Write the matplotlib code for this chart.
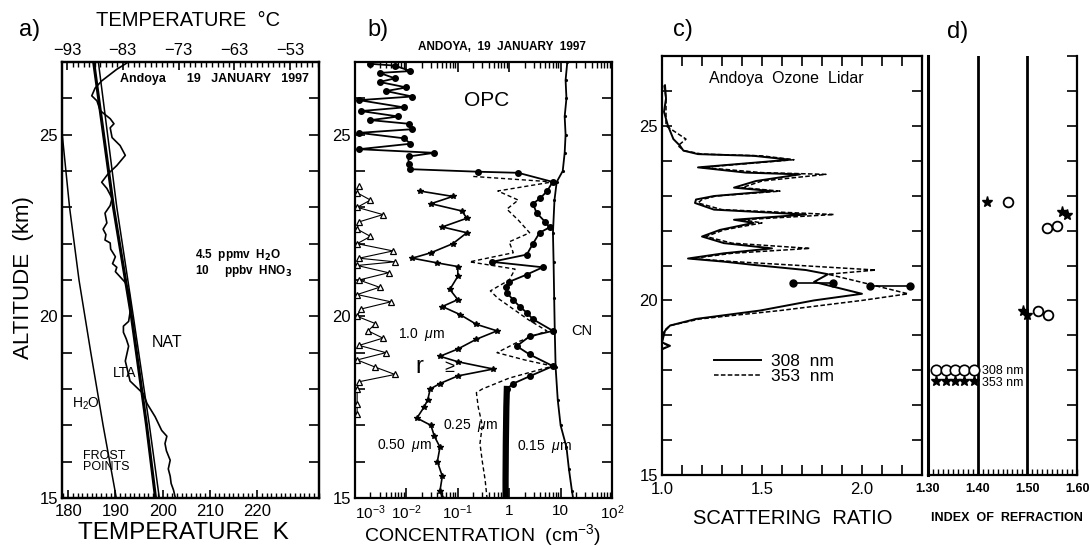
import matplotlib
matplotlib.use("Agg")
import matplotlib.pyplot as plt
from matplotlib.ticker import MultipleLocator, FuncFormatter, LogLocator, NullFormatter
from matplotlib.lines import Line2D

plt.rcParams['font.family'] = ['Liberation Sans', 'DejaVu Sans']
plt.rcParams['mathtext.fontset'] = 'custom'
plt.rcParams['mathtext.rm'] = 'Liberation Sans'
plt.rcParams['mathtext.it'] = 'Liberation Sans:italic'

# ---- panel a: temperature (K) vs altitude (km)
temp_alt = [26.97, 26.80, 26.48, 26.28, 26.07, 25.93, 25.66, 25.44, 25.30, 25.19, 24.92, 24.70,
            24.43, 24.15, 23.93, 23.69, 23.52, 23.25, 23.05, 22.84, 22.57, 22.40, 22.25, 22.10,
            22.02, 21.85, 21.64, 21.45, 21.35, 21.23, 20.93, 20.66, 20.27, 19.86, 19.73, 19.56,
            19.38, 19.18, 18.77, 18.50, 18.22, 17.87, 17.60, 17.24, 16.86, 16.70, 16.50, 16.30,
            16.04, 15.80, 15.60, 15.40, 15.22, 15.00]
temp_k = [192.4, 190.3, 187.1, 185.7, 185.0, 186.1, 186.8, 188.9, 189.7, 188.9, 189.3, 191.0,
          192.1, 190.3, 188.5, 187.1, 188.2, 189.3, 188.9, 187.8, 188.2, 187.4, 188.0, 187.8,
          188.9, 189.0, 190.0, 189.4, 190.3, 190.0, 192.1, 192.9, 193.3, 192.8, 191.7, 191.7,
          192.3, 192.8, 192.1, 192.6, 193.1, 195.9, 196.7, 198.4, 199.8, 200.9, 200.5, 200.8,
          201.6, 201.2, 201.6, 201.8, 202.3, 202.7]
nat_alt = [27, 23, 20, 17, 15]
nat_k = [185.4, 189.6, 193.4, 196.6, 198.5]
lta_alt = [27, 23, 20, 17, 15]
lta_k = [186.4, 190.3, 193.8, 197.2, 199.3]
frost_alt = [27.0, 25.2, 23.0, 21.0, 19.0, 17.0, 15.0]
frost_k = [176.5, 178.6, 180.3, 182.3, 184.8, 187.4, 190.2]
k_ticks = [180, 190, 200, 210, 220]
c_ticks = [-93, -83, -73, -63, -53]

# ---- panel b: OPC concentrations (cm^-3)
cn_alt = [27.0, 26.5, 26.0, 25.5, 25.0, 24.5, 24.0, 23.7, 23.2, 22.3, 21.5, 20.5, 19.6, 18.6,
          17.7, 17.0, 16.4, 15.8, 15.2, 15.0]
cn_conc = [13.5, 12.5, 13.0, 12.0, 12.5, 12.0, 11.0, 8.4, 7.6, 7.1, 7.3, 7.5, 7.7, 8.0,
           8.8, 10.0, 13.0, 14.5, 16.6, 17.5]
r015_alt = [26.95, 26.9, 26.75, 26.7, 26.55, 26.45, 26.3, 26.2, 26.05, 25.95, 25.75, 25.65,
            25.5, 25.4, 25.3, 25.15, 25.05, 24.9, 24.75, 24.6, 24.5, 24.4, 24.2, 24.05, 23.98,
            23.95, 23.7, 23.45, 23.25, 23.1, 22.85, 22.6, 22.45, 22.3, 22.0, 21.7, 21.5, 21.35,
            21.15, 20.95, 20.8, 20.65, 20.45, 20.27, 20.1, 19.92, 19.6, 19.45, 19.18, 18.95,
            18.63, 18.35, 18.15, 18.0]
r015_conc = [0.002, 0.006, 0.012, 0.003, 0.006, 0.003, 0.010, 0.004, 0.013, 0.0012, 0.009,
             0.0013, 0.007, 0.002, 0.011, 0.013, 0.0012, 0.009, 0.012, 0.0012, 0.035, 0.011,
             0.011, 0.012, 0.25, 1.5, 7.0, 5.5, 4.0, 2.9, 3.4, 5.0, 6.1, 3.9, 2.9, 2.2, 0.46, 4.5,
             2.2, 1.0, 0.85, 0.9, 1.2, 1.6, 2.2, 2.9, 7.1, 2.5, 1.4, 2.5, 7.1, 2.5, 1.2, 0.9]
r015_low_alt = [18.0, 17.5, 16.5, 15.5, 15.0]
r015_low_conc = [0.9, 0.88, 0.86, 0.85, 0.85]
r025_alt = [23.85, 23.7, 23.45, 23.2, 22.95, 22.65, 22.3, 22.05, 21.75, 21.5, 21.3, 21.0, 20.7,
            20.5, 20.2, 19.9, 19.6, 19.3, 19.0, 18.8, 18.63, 18.3, 18.0, 17.9, 17.5, 17.0, 16.5,
            16.0, 15.5, 15.0]
r025_conc = [0.2, 7.0, 0.6, 1.5, 0.9, 1.5, 2.5, 1.0, 1.2, 0.17, 1.3, 1.0, 0.43, 0.6, 1.2, 2.4,
             5.4, 1.5, 0.58, 2.0, 7.0, 1.0, 0.3, 0.23, 0.25, 0.3, 0.27, 0.3, 0.34, 0.37]
r050_alt = [23.45, 23.3, 23.1, 22.9, 22.7, 22.46, 22.3, 22.0, 21.75, 21.6, 21.47, 21.37, 21.1,
            20.74, 20.46, 20.27, 20.05, 19.78, 19.6, 19.37, 19.1, 18.9, 18.75, 18.55, 18.36,
            18.15, 18.0, 17.7, 17.5, 17.2, 17.0, 16.7, 16.4, 16.0, 15.6, 15.2, 15.0]
r050_conc = [0.018, 0.08, 0.03, 0.12, 0.15, 0.05, 0.15, 0.08, 0.03, 0.013, 0.04, 0.1, 0.1,
             0.07, 0.1, 0.05, 0.11, 0.23, 0.58, 0.23, 0.1, 0.045, 0.1, 0.49, 0.1, 0.045, 0.029,
             0.026, 0.022, 0.016, 0.03, 0.035, 0.045, 0.04, 0.05, 0.045, 0.05]
r100_alt = [23.6, 23.4, 23.2, 23.0, 22.8, 22.6, 22.4, 22.2, 22.0, 21.8, 21.6, 21.5, 21.4, 21.2,
            21.0, 20.8, 20.6, 20.4, 20.2, 20.0, 19.8, 19.6, 19.4, 19.2, 19.0, 18.8, 18.6, 18.4,
            18.2, 18.0, 17.6, 17.3]
r100_conc = [0.0012, 0.0011, 0.002, 0.0011, 0.0035, 0.0012, 0.0011, 0.002, 0.0011, 0.0055,
             0.0012, 0.006, 0.0011, 0.0045, 0.0012, 0.003, 0.0011, 0.005, 0.0013, 0.0011,
             0.0025, 0.0018, 0.0035, 0.0012, 0.004, 0.0011, 0.0025, 0.006, 0.0012, 0.0011,
             0.0011, 0.0011]
conc_ticks = [1e-3, 1e-2, 1e-1, 1, 10, 100]
conc_labels = [r'$10^{-3}$', r'$10^{-2}$', r'$10^{-1}$', '1', '10', r'$10^{2}$']

# ---- panel c: lidar scattering ratio
sr_alt = [26.16, 25.78, 25.4, 25.0, 24.62, 24.43, 24.29, 24.19, 24.14, 24.03, 23.81, 23.66,
          23.61, 23.42, 23.23, 23.13, 22.99, 22.89, 22.79, 22.6, 22.46, 22.31, 22.22, 22.02,
          21.83, 21.64, 21.49, 21.35, 21.2, 21.11, 21.01, 20.87, 20.75, 20.53, 20.19, 20.0,
          19.71, 19.47, 19.28, 19.13, 18.8, 18.7, 18.6, 18.4, 15.0]
sr_308 = [1.015, 1.02, 1.01, 1.03, 1.057, 1.09, 1.107, 1.18, 1.46, 1.64, 1.18, 1.42,
          1.69, 1.47, 1.36, 1.55, 1.26, 1.17, 1.165, 1.26, 1.72, 1.36, 1.457, 1.29,
          1.20, 1.31, 1.55, 1.31, 1.13, 1.31, 1.47, 1.72, 1.83, 1.76, 2.0, 1.76,
          1.49, 1.17, 1.04, 1.015, 1.0, 1.04, 1.0, 1.0, 1.0]
sr_353 = [1.01, 1.02, 1.02, 1.02, 1.12, 1.08, 1.11, 1.2, 1.5, 1.66, 1.2, 1.5,
          1.82, 1.5, 1.40, 1.59, 1.27, 1.2, 1.18, 1.30, 1.86, 1.40, 1.50, 1.31,
          1.22, 1.35, 1.74, 1.35, 1.15, 1.36, 1.66, 2.07, 1.83, 1.99, 2.23, 2.0,
          1.59, 1.19, 1.04, 1.01, 1.0, 1.03, 1.0, 1.0, 1.0]
fit308_sr = [1.657, 1.857]
fit308_alt = [20.51, 20.51]
fit353_sr = [2.04, 2.24]
fit353_alt = [20.42, 20.42]
sr_ticks = [1.0, 1.5, 2.0]

# ---- panel d: index of refraction
n308 = [1.461, 1.54, 1.56, 1.521, 1.541]
n308_alt = [22.82, 22.06, 22.13, 19.71, 19.57]
n353 = [1.419, 1.570, 1.58, 1.491, 1.50]
n353_alt = [22.82, 22.54, 22.44, 19.71, 19.57]
n_lines = [1.40, 1.50]
n_ticks = [1.30, 1.40, 1.50, 1.60]

W, H = 1090, 546
fig = plt.figure(figsize=(W / 100, H / 100), dpi=100)


def box(l, r, t, b):
    return [l / W, 1 - b / H, (r - l) / W, (b - t) / H]


def alt_axis(ax, labels=True):
    ax.set_ylim(15, 27)
    ax.yaxis.set_major_locator(MultipleLocator(1))
    if labels:
        ax.yaxis.set_major_formatter(FuncFormatter(lambda v, p: f"{v:.0f}" if v % 5 == 0 else ""))
    else:
        ax.yaxis.set_major_formatter(NullFormatter())
    ax.tick_params(axis='y', which='major', direction='in', length=7, width=1.2,
                   left=True, right=True, labelsize=12, pad=3)
    for s in ax.spines.values():
        s.set_linewidth(1.6)


# ---------------- a
ax_a = fig.add_axes(box(62, 319, 62, 498))
ax_a.plot(temp_k, temp_alt, color='black', lw=1.2)
ax_a.plot(nat_k, nat_alt, color='black', lw=2.2)
ax_a.plot(lta_k, lta_alt, color='black', lw=1.1)
ax_a.plot(frost_k, frost_alt, color='black', lw=1.1)
ax_a.set_xlim(178.7, 233.1)
alt_axis(ax_a)
ax_a.set_xticks(k_ticks)
ax_a.xaxis.set_minor_locator(MultipleLocator(1))
ax_a.tick_params(axis='x', which='major', direction='in', length=6, width=1.2,
                 top=False, labelsize=12, pad=4)
ax_a.tick_params(axis='x', which='minor', direction='in', length=3.5, width=1, top=False)
ax_t = ax_a.twiny()
ax_t.set_xlim(-93.9, -47.8)
ax_t.set_xticks(c_ticks)
ax_t.set_xticklabels([f"\u2212{abs(c)}" for c in c_ticks])
ax_t.xaxis.set_minor_locator(MultipleLocator(1))
ax_t.tick_params(axis='x', which='major', direction='in', length=6, width=1.2, labelsize=12, pad=3)
ax_t.tick_params(axis='x', which='minor', direction='in', length=3.5, width=1)
for s in ax_t.spines.values():
    s.set_linewidth(1.6)

ax_a.text(191.0, 26.53, "Andoya      19   JANUARY   1997", fontsize=9, fontweight='bold', va='center')
ax_a.text(206.9, 21.69, "4.5  ppmv  H$_\\mathbf{2}$O", fontsize=8.5, fontweight='bold', va='center')
ax_a.text(206.9, 21.26, "10     ppbv  HNO$_\\mathbf{3}$", fontsize=8.5, fontweight='bold', va='center')
ax_a.text(197.8, 19.29, "NAT", fontsize=11.5, va='center')
ax_a.text(189.5, 18.44, "LTA", fontsize=10, va='center')
ax_a.text(180.8, 17.6, "H$_2$O", fontsize=10, va='center')
ax_a.text(183.2, 16.0, "FROST\nPOINTS", fontsize=9, va='center', linespacing=0.85)

fig.text(30 / W, 1 - 30 / H, "a)", fontsize=17, ha='center', va='center')
fig.text(188 / W, 1 - 20 / H, "TEMPERATURE  °C", fontsize=14.5, ha='center', va='center')
fig.text(183 / W, 1 - 533 / H, "TEMPERATURE  K", fontsize=17.5, ha='center', va='center')
fig.text(24 / W, 1 - 278 / H, "ALTITUDE  (km)", fontsize=16, rotation=90, ha='center', va='center')

# ---------------- b
ax_b = fig.add_axes(box(355, 612, 62, 498))
ax_b.set_xscale('log')
ax_b.plot(cn_conc, cn_alt, color='black', lw=1.3, marker='.', ms=2.5)
ax_b.plot(r015_conc, r015_alt, color='black', lw=1.3, marker='o', ms=4)
ax_b.plot(r015_low_conc, r015_low_alt, color='black', lw=4.5)
ax_b.plot(r025_conc, r025_alt, color='black', lw=1.0, ls=(0, (3, 2)))
ax_b.plot(r050_conc, r050_alt, color='black', lw=1.2, marker='*', ms=4)
ax_b.plot(r100_conc, r100_alt, color='black', lw=0.8, marker='^', ms=4, mfc='white', mew=0.9)
ax_b.set_xlim(1e-3, 1e2)
alt_axis(ax_b)
ax_b.set_xticks(conc_ticks)
ax_b.set_xticklabels(conc_labels)
ax_b.get_xticklabels()[0].set_horizontalalignment('left')
ax_b.xaxis.set_minor_locator(LogLocator(base=10, subs=range(2, 10)))
ax_b.xaxis.set_minor_formatter(NullFormatter())
ax_b.tick_params(axis='x', which='major', direction='in', length=7, width=1.2,
                 top=True, labelsize=11, pad=4)
ax_b.tick_params(axis='x', which='minor', direction='in', length=4, width=1, top=True)

ax_b.text(0.37, 25.93, "OPC", fontsize=15, ha='center', va='center')
ax_b.text(16, 19.6, "CN", fontsize=10.5, va='center')
ax_b.text(0.0069, 19.5, "1.0  $\\mu$m", fontsize=10, va='center')
ax_b.text(0.0147, 18.6, "r", fontsize=17, va='center')
ax_b.text(0.055, 18.6, "\u2265", fontsize=13, va='center')
ax_b.text(0.0515, 17.0, "0.25  $\\mu$m", fontsize=10, va='center')
ax_b.text(0.00268, 16.45, "0.50  $\\mu$m", fontsize=10, va='center')
ax_b.text(1.42, 16.42, "0.15  $\\mu$m", fontsize=10, va='center')
fig.text(502 / W, 1 - 47 / H, "ANDOYA,  19  JANUARY  1997", fontsize=8.5, fontweight='bold',
         ha='center', va='center')
fig.text(378 / W, 1 - 30 / H, "b)", fontsize=17, ha='center', va='center')
fig.text(482 / W, 1 - 535 / H, "CONCENTRATION  (cm$^{-3}$)", fontsize=14, ha='center', va='center')

# ---------------- c
ax_c = fig.add_axes(box(662, 922, 56, 475))
ax_c.plot(sr_308, sr_alt, color='black', lw=1.4, label="308  nm")
ax_c.plot(sr_353, sr_alt, color='black', lw=1.1, ls=(0, (3, 1.5)), label="353  nm")
ax_c.plot(fit308_sr, fit308_alt, color='black', lw=1.2, marker='o', ms=5)
ax_c.plot(fit353_sr, fit353_alt, color='black', lw=1.2, marker='o', ms=5)
ax_c.set_xlim(1.0, 2.3)
alt_axis(ax_c)
ax_c.xaxis.set_major_locator(MultipleLocator(0.1))
ax_c.xaxis.set_major_formatter(FuncFormatter(
    lambda v, p: f"{v:.1f}" if any(abs(v - t) < 1e-6 for t in sr_ticks) else ""))
ax_c.tick_params(axis='x', which='major', direction='in', length=7, width=1.2,
                 top=True, labelsize=12, pad=5)
ax_c.legend(loc='upper left', bbox_to_anchor=(0.2, 0.29), frameon=False, fontsize=12.5,
            handlelength=2.7, handletextpad=0.6, labelspacing=0.0, borderpad=0, borderaxespad=0)
ax_c.text(1.62, 26.35, "Andoya  Ozone  Lidar", fontsize=11.5, ha='center', va='center')
fig.text(683 / W, 1 - 30 / H, "c)", fontsize=17, ha='center', va='center')
fig.text(793 / W, 1 - 519 / H, "SCATTERING  RATIO", fontsize=14.5, ha='center', va='center')

# ---------------- d
ax_d = fig.add_axes(box(928, 1077, 56, 475))
for n in n_lines:
    ax_d.axvline(n, color='black', lw=2)
ax_d.plot(n308, n308_alt, ls='none', marker='o', ms=7, mfc='white', mec='black', mew=1.3)
ax_d.plot(n353, n353_alt, ls='none', marker='*', ms=8, color='black')
ax_d.set_xlim(1.3, 1.6)
alt_axis(ax_d, labels=False)
ax_d.tick_params(axis='y', left=False, right=True)
ax_d.spines['top'].set_visible(False)
ax_d.spines['left'].set_linewidth(2.2)
ax_d.set_xticks(n_ticks)
ax_d.set_xticklabels([f"{v:.2f}" for v in n_ticks])
ax_d.xaxis.set_minor_locator(MultipleLocator(0.01))
ax_d.tick_params(axis='x', which='both', direction='in', length=4, width=1, top=False,
                 labelsize=9, pad=6)
for lab in ax_d.get_xticklabels():
    lab.set_fontweight('bold')
h308 = Line2D([], [], ls='none', marker='o', ms=7.5, mfc='white', mec='black', mew=1.2)
h353 = Line2D([], [], ls='none', marker='*', ms=8, color='black')
ax_d.legend([h308, h353], ["308 nm", "353 nm"], numpoints=5, loc='upper left',
            bbox_to_anchor=(0.03, 0.262), frameon=False, fontsize=9, handlelength=3.6,
            handletextpad=0.35, labelspacing=-0.05, borderpad=0, borderaxespad=0)
fig.text(958 / W, 1 - 32 / H, "d)", fontsize=17, ha='center', va='center')
fig.text(1007 / W, 1 - 518 / H, "INDEX  OF  REFRACTION", fontsize=9, fontweight='bold',
         ha='center', va='center')

fig.savefig("out.png", dpi=100)
